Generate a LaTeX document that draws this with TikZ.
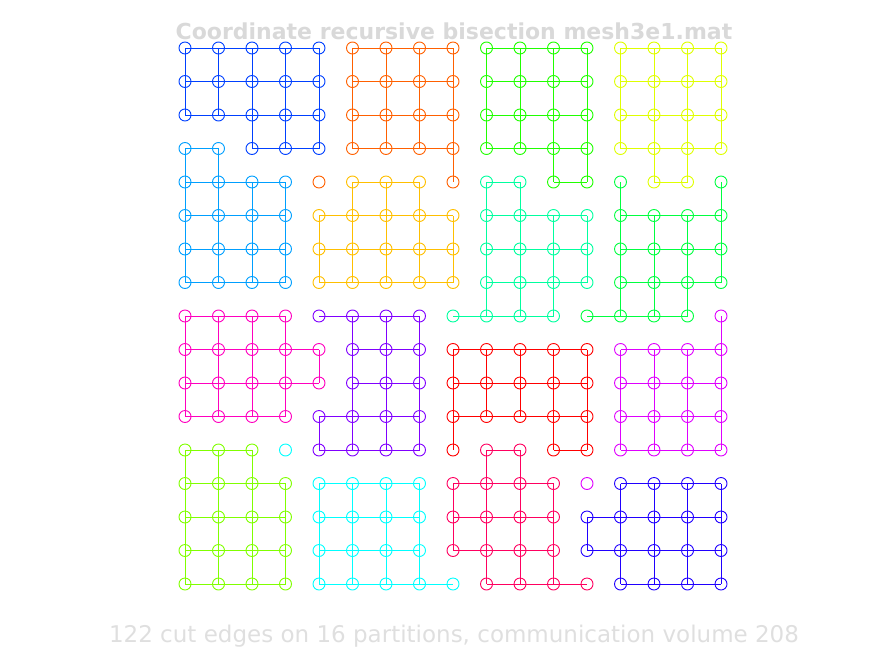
\documentclass[tikz,border=0pt]{standalone}
\usepackage{fontspec}
\setmainfont{DejaVu Sans}
\definecolor{partR}{RGB}{255, 0, 0}
\definecolor{partO}{RGB}{255, 96, 0}
\definecolor{partA}{RGB}{255, 191, 0}
\definecolor{partY}{RGB}{223, 255, 0}
\definecolor{partL}{RGB}{128, 255, 0}
\definecolor{partG}{RGB}{32, 255, 0}
\definecolor{partS}{RGB}{0, 255, 64}
\definecolor{partT}{RGB}{0, 255, 159}
\definecolor{partQ}{RGB}{0, 255, 255}
\definecolor{partC}{RGB}{0, 159, 255}
\definecolor{partB}{RGB}{0, 64, 255}
\definecolor{partN}{RGB}{32, 0, 255}
\definecolor{partP}{RGB}{128, 0, 255}
\definecolor{partV}{RGB}{223, 0, 255}
\definecolor{partM}{RGB}{255, 0, 191}
\definecolor{partK}{RGB}{255, 0, 96}
\usetikzlibrary{calc}
\tikzset{
  vertex/.style={circle, draw, inner sep=0pt, minimum size=12pt, line width=0.9pt},
  link/.style={line width=1pt},
  caption/.style={font=\fontsize{23}{28}\selectfont, anchor=base}
}

\begin{document}
\begin{tikzpicture}[x=1pt, y=-1pt]
        \useasboundingbox (0,0) rectangle (875,656);
        % Title and summary
        \node[caption, font=\fontsize{22}{27}\selectfont\bfseries, text=gray!30] (title) at (454,39) {Coordinate recursive bisection mesh3e1.mat};
        \node[caption, text=gray!25] (summary) at (454,642) {122 cut edges on 16 partitions, communication volume 208};

        % Mesh nodes, one letter per partition
        \foreach \row [count=\rw from 0] in {
            {B,B,B,B,B,O,O,O,O,G,G,G,G,Y,Y,Y,Y},
            {B,B,B,B,B,O,O,O,O,G,G,G,G,Y,Y,Y,Y},
            {B,B,B,B,B,O,O,O,O,G,G,G,G,Y,Y,Y,Y},
            {C,C,B,B,B,O,O,O,O,G,G,G,G,Y,Y,Y,Y},
            {C,C,C,C,O,A,A,A,O,T,T,G,G,S,Y,Y,S},
            {C,C,C,C,A,A,A,A,A,T,T,T,T,S,S,S,S},
            {C,C,C,C,A,A,A,A,A,T,T,T,T,S,S,S,S},
            {C,C,C,C,A,A,A,A,A,T,T,T,T,S,S,S,S},
            {M,M,M,M,P,P,P,P,T,T,T,T,S,S,S,S,V},
            {M,M,M,M,M,P,P,P,R,R,R,R,R,V,V,V,V},
            {M,M,M,M,M,P,P,P,R,R,R,R,R,V,V,V,V},
            {M,M,M,M,P,P,P,P,R,R,R,R,R,V,V,V,V},
            {L,L,L,Q,P,P,P,P,R,K,K,R,R,V,V,V,V},
            {L,L,L,L,Q,Q,Q,Q,K,K,K,K,V,N,N,N,N},
            {L,L,L,L,Q,Q,Q,Q,K,K,K,K,N,N,N,N,N},
            {L,L,L,L,Q,Q,Q,Q,K,K,K,K,N,N,N,N,N},
            {L,L,L,L,Q,Q,Q,Q,Q,K,K,K,K,N,N,N,N}} {
          \foreach \p [count=\cl from 0] in \row {
            \node[vertex, draw=part\p] (v-\rw-\cl) at ({185+33.5*\cl},{48+33.5*\rw}) {};
            \expandafter\xdef\csname part-\rw-\cl\endcsname{\p}
          }
        }

        % Edges inside each partition
        \foreach \rw in {0,...,16} {
          \foreach \cl in {0,...,16} {
            \pgfmathtruncatemacro\cn{\cl+1}
            \pgfmathtruncatemacro\rn{\rw+1}
            \edef\pa{\csname part-\rw-\cl\endcsname}
            \ifnum\cl<16
              \edef\pb{\csname part-\rw-\cn\endcsname}
              \ifx\pa\pb \draw[link, color=part\pa] (v-\rw-\cl.center) -- (v-\rw-\cn.center); \fi
            \fi
            \ifnum\rw<16
              \edef\pb{\csname part-\rn-\cl\endcsname}
              \ifx\pa\pb \draw[link, color=part\pa] (v-\rw-\cl.center) -- (v-\rn-\cl.center); \fi
            \fi
          }
        }
    \end{tikzpicture}
\end{document}
